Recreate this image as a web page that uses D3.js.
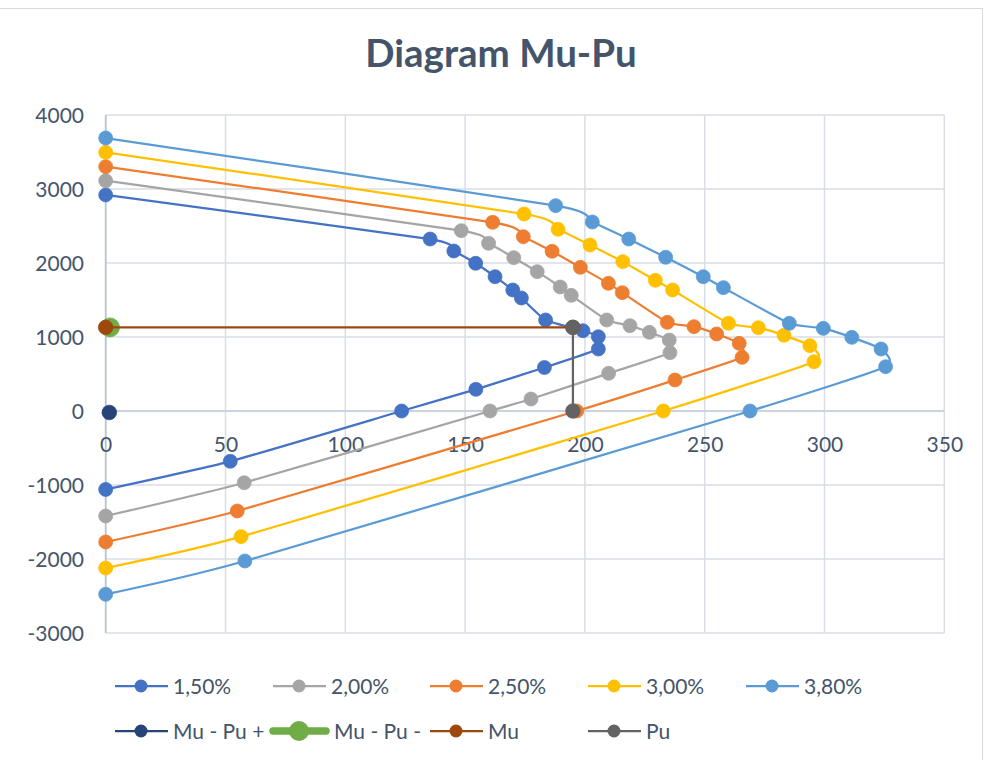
<!DOCTYPE html>
<html>
<head>
<meta charset="utf-8">
<script src="https://cdn.jsdelivr.net/npm/d3@7"></script>
<style>
  html, body { margin: 0; padding: 0; background: #ffffff; }
  svg { display: block; }
  text { font-family: Lato, "Open Sans", "Noto Sans", sans-serif; fill: #44546A; }
</style>
</head>
<body>
<svg id="chart" width="984" height="760"></svg>
<script>
// Interaction diagram data: moment Mu (x) vs axial force Pu (y) for each reinforcement ratio
const ratioLabels = ["1,50%", "2,00%", "2,50%", "3,00%", "3,80%"];

const mu150 = [0, 135.4, 145.3, 154.4, 162.5, 169.9, 173.5, 183.6, 199.2, 205.6, 205.6, 183.1, 154.5, 123.5, 52, 0];
const pu150 = [2920, 2324, 2162, 1996, 1815, 1635, 1527, 1230, 1085, 1004, 838, 588, 293, 0, -680, -1060];

const mu200 = [0, 148.4, 159.8, 170.3, 180.1, 189.7, 194.3, 209.1, 218.8, 226.9, 235.2, 235.5, 209.9, 177.5, 160.4, 57.8, 0];
const pu200 = [3112, 2437, 2266, 2072, 1883, 1676, 1563, 1230, 1153, 1063, 959, 788, 509, 162, 0, -969, -1419];

const mu250 = [0, 161.5, 174.3, 186.3, 198.1, 209.8, 215.6, 234.4, 245.5, 255, 264.4, 265.6, 237.6, 196.6, 54.9, 0];
const pu250 = [3302, 2550, 2356, 2158, 1941, 1725, 1599, 1198, 1140, 1041, 914, 725, 419, 0, -1351, -1770];

const mu300 = [0, 174.6, 188.8, 202.1, 215.8, 229.4, 236.6, 259.9, 272.4, 283.1, 293.9, 295.6, 232.7, 56.5, 0];
const pu300 = [3495, 2662, 2455, 2243, 2018, 1766, 1635, 1185, 1126, 1023, 883, 666, 0, -1698, -2122];

const mu380 = [0, 187.8, 203.1, 218.3, 233.7, 249.4, 257.8, 285.3, 299.5, 311.4, 323.6, 325.5, 268.9, 58.1, 0];
const pu380 = [3689, 2775, 2554, 2324, 2077, 1815, 1667, 1185, 1117, 995, 838, 599, 0, -2027, -2477];

// Design load point and its projections
const muPuPlusX = [1.5];
const muPuPlusY = [-20];
const muPuMinusX = [1.8];
const muPuMinusY = [1130];
const muLineX = [0, 195];
const muLineY = [1130, 1130];
const puLineX = [195, 195];
const puLineY = [0, 1130];

const xTicks = [0, 50, 100, 150, 200, 250, 300, 350];
const yTicks = [-3000, -2000, -1000, 0, 1000, 2000, 3000, 4000];

const zip = (xs, ys) => xs.map((x, i) => ({ x, y: ys[i] }));

const series = [
  { name: ratioLabels[0], pts: zip(mu150, pu150), color: "#4472C4", r: 7, width: 2.25, smooth: true },
  { name: ratioLabels[1], pts: zip(mu200, pu200), color: "#A5A5A5", r: 7, width: 2.25, smooth: true },
  { name: ratioLabels[2], pts: zip(mu250, pu250), color: "#ED7D31", r: 7, width: 2.25, smooth: true },
  { name: ratioLabels[3], pts: zip(mu300, pu300), color: "#FFC000", r: 7, width: 2.25, smooth: true },
  { name: ratioLabels[4], pts: zip(mu380, pu380), color: "#5B9BD5", r: 7, width: 2.25, smooth: true },
  { name: "Mu - Pu +", pts: zip(muPuPlusX, muPuPlusY), color: "#264478", r: 7.3, width: 2.25, legendWidth: 2.25, legendR: 6.5 },
  { name: "Mu - Pu -", pts: zip(muPuMinusX, muPuMinusY), color: "#70AD47", r: 9.5, width: 7, legendWidth: 7.5, legendR: 10 },
  { name: "Mu", pts: zip(muLineX, muLineY), color: "#9E480E", r: 7.3, width: 2.25 },
  { name: "Pu", pts: zip(puLineX, puLineY), color: "#636363", r: 7.3, width: 2.25 }
];

const svg = d3.select("#chart");

// chart-area frame
svg.append("rect")
  .attr("x", -1).attr("y", 8.5).attr("width", 983.5).attr("height", 760)
  .attr("fill", "#ffffff").attr("stroke", "#D9D9D9").attr("stroke-width", 1);

const x = d3.scaleLinear().domain([0, 350]).range([105.7, 944.3]);
const y = d3.scaleLinear().domain([-3000, 4000]).range([633, 115]);

// title
svg.append("text")
  .attr("x", 501).attr("y", 67)
  .attr("text-anchor", "middle")
  .style("font-size", "38.5px").style("font-weight", "700")
  .text("Diagram Mu-Pu");

// gridlines
const grid = svg.append("g");
grid.selectAll("line.v").data(xTicks).join("line")
  .attr("x1", d => x(d)).attr("x2", d => x(d))
  .attr("y1", y(4000)).attr("y2", y(-3000))
  .attr("stroke", "#D9DEE6").attr("stroke-width", 1.5);
grid.selectAll("line.h").data(yTicks).join("line")
  .attr("x1", x(0)).attr("x2", x(350))
  .attr("y1", d => y(d)).attr("y2", d => y(d))
  .attr("stroke", "#D9DEE6").attr("stroke-width", 1.5);

// axis lines through the origin
svg.append("line")
  .attr("x1", x(0)).attr("x2", x(350)).attr("y1", y(0)).attr("y2", y(0))
  .attr("stroke", "#C5CDD9").attr("stroke-width", 1.5);
svg.append("line")
  .attr("x1", x(0)).attr("x2", x(0)).attr("y1", y(4000)).attr("y2", y(-3000))
  .attr("stroke", "#B9C4D4").attr("stroke-width", 1.75);

// tick labels (plain hyphen for negatives)
const plain = d => String(d);
const xAxis = d3.axisBottom(x).tickValues(xTicks).tickSize(0).tickPadding(0).tickFormat(plain);
const gx = svg.append("g").attr("transform", `translate(0,${y(0)})`).call(xAxis);
gx.select(".domain").remove();
gx.selectAll("text").attr("y", 41).attr("dy", null)
  .style("font-size", "21px").attr("fill", "#44546A");

const yAxis = d3.axisLeft(y).tickValues(yTicks).tickSize(0).tickPadding(0).tickFormat(plain);
const gy = svg.append("g").attr("transform", "translate(84,0)").call(yAxis);
gy.select(".domain").remove();
gy.selectAll("text").attr("x", 0).attr("dy", "0.36em")
  .style("font-size", "21px").attr("fill", "#44546A");

// series: smoothed lines with circular markers
const smoothLine = d3.line().x(d => x(d.x)).y(d => y(d.y)).curve(d3.curveCardinal.tension(0.5));
const straightLine = d3.line().x(d => x(d.x)).y(d => y(d.y));

const plot = svg.append("g");
series.forEach(s => {
  const g = plot.append("g");
  if (s.pts.length > 1) {
    g.append("path")
      .attr("d", (s.smooth ? smoothLine : straightLine)(s.pts))
      .attr("fill", "none").attr("stroke", s.color)
      .attr("stroke-width", s.width).attr("stroke-linejoin", "round");
  }
  g.selectAll("circle").data(s.pts).join("circle")
    .attr("cx", d => x(d.x)).attr("cy", d => y(d.y)).attr("r", s.r)
    .attr("fill", s.color).attr("stroke", s.color).attr("stroke-width", 0.75);
});

// legend
const colX = [115, 273, 430, 588, 746];
const rowY = [686, 731];
const legend = svg.append("g");
series.forEach((s, i) => {
  const row = i < 5 ? 0 : 1;
  const col = i < 5 ? i : i - 5;
  const lx = colX[col], ly = rowY[row];
  const g = legend.append("g");
  g.append("line")
    .attr("x1", lx).attr("x2", lx + 53).attr("y1", ly).attr("y2", ly)
    .attr("stroke", s.color).attr("stroke-width", s.legendWidth || 2.25)
    .attr("stroke-linecap", s.legendWidth > 5 ? "round" : "butt");
  g.append("circle")
    .attr("cx", lx + 26).attr("cy", ly).attr("r", s.legendR || 6.5)
    .attr("fill", s.color);
  g.append("text")
    .attr("x", lx + (s.legendWidth > 5 ? 61 : 58)).attr("y", ly).attr("dy", "0.36em")
    .style("font-size", "21px")
    .text(s.name);
});
</script>
</body>
</html>
